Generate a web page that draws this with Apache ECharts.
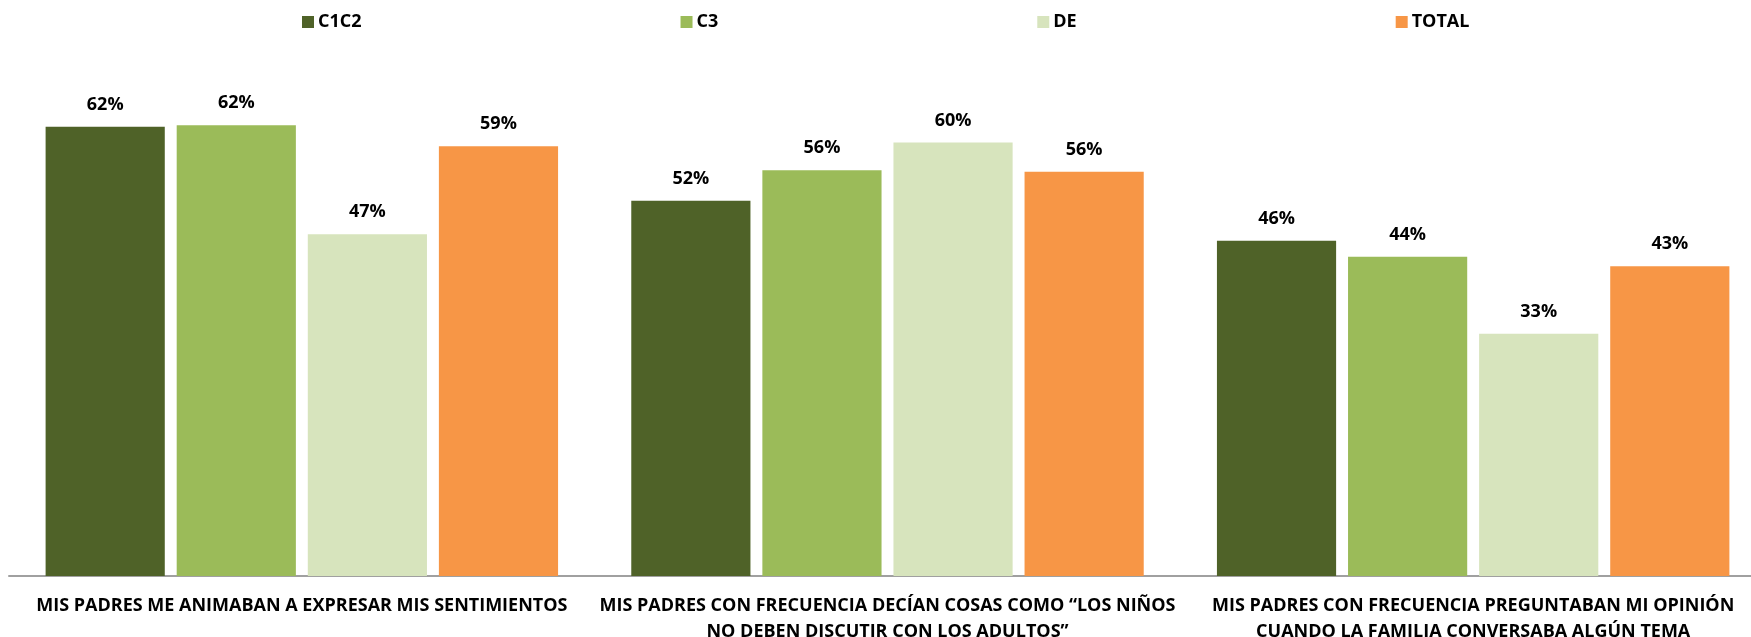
<!DOCTYPE html>
<html>
<head>
<meta charset="utf-8">
<script src="https://cdn.jsdelivr.net/npm/echarts@6/dist/echarts.min.js"></script>
<style>
  html, body { margin: 0; padding: 0; background: #fff; overflow: hidden; }
  #main { width: 1751px; height: 637px; }
</style>
</head>
<body>
<div id="main"></div>
<script>
var categories = [
    'MIS PADRES ME ANIMABAN A EXPRESAR MIS SENTIMIENTOS',
    'MIS PADRES CON FRECUENCIA DECÍAN COSAS COMO “LOS NIÑOS\nNO DEBEN DISCUTIR CON LOS ADULTOS”',
    'MIS PADRES CON FRECUENCIA PREGUNTABAN MI OPINIÓN\nCUANDO LA FAMILIA CONVERSABA ALGÚN TEMA'
];
var seriesNames = ['C1C2', 'C3', 'DE', 'TOTAL'];
var c1c2 = [61.8, 51.6, 46.1];
var c3 = [62.0, 55.8, 43.9];
var de = [47.0, 59.6, 33.3];
var total = [59.1, 55.6, 42.6];
var colors = ['#4F6228', '#9BBB59', '#D7E4BD', '#F79646'];

var font = '"Open Sans", sans-serif';
var myChart = echarts.init(document.getElementById('main'));

function bar(name, data, color) {
    return {
        name: name,
        type: 'bar',
        data: data,
        barGap: '10%',
        barCategoryGap: '12.5%',
        itemStyle: { color: color },
        label: {
            show: true,
            position: 'top',
            distance: 13,
            color: '#000',
            fontFamily: font,
            fontWeight: 'bold',
            fontSize: 18,
            formatter: function (p) { return Math.round(p.value) + '%'; }
        }
    };
}

var option = {
    animation: false,
    color: colors,
    legend: {
        data: seriesNames,
        left: 297,
        top: 8,
        itemWidth: 12,
        itemHeight: 12,
        itemGap: 319,
        icon: 'rect',
        textStyle: {
            color: '#000',
            fontFamily: font,
            fontWeight: 'bold',
            fontSize: 18,
            padding: [0, 0, 0, -1]
        }
    },
    grid: {
        left: 9,
        top: 67,
        width: 1757,
        height: 509,
        containLabel: false,
        outerBoundsMode: 'none'
    },
    xAxis: {
        type: 'category',
        data: categories,
        axisTick: { show: false },
        axisLine: { lineStyle: { color: '#A0A0A0', width: 2 } },
        axisLabel: {
            interval: 0,
            margin: 17,
            color: '#000',
            fontFamily: font,
            fontWeight: 'bold',
            fontSize: 18,
            lineHeight: 26
        }
    },
    yAxis: {
        type: 'value',
        min: 0,
        max: 70,
        show: false,
        splitLine: { show: false }
    },
    series: [
        bar(seriesNames[0], c1c2, colors[0]),
        bar(seriesNames[1], c3, colors[1]),
        bar(seriesNames[2], de, colors[2]),
        bar(seriesNames[3], total, colors[3])
    ]
};

myChart.setOption(option);
</script>
</body>
</html>
